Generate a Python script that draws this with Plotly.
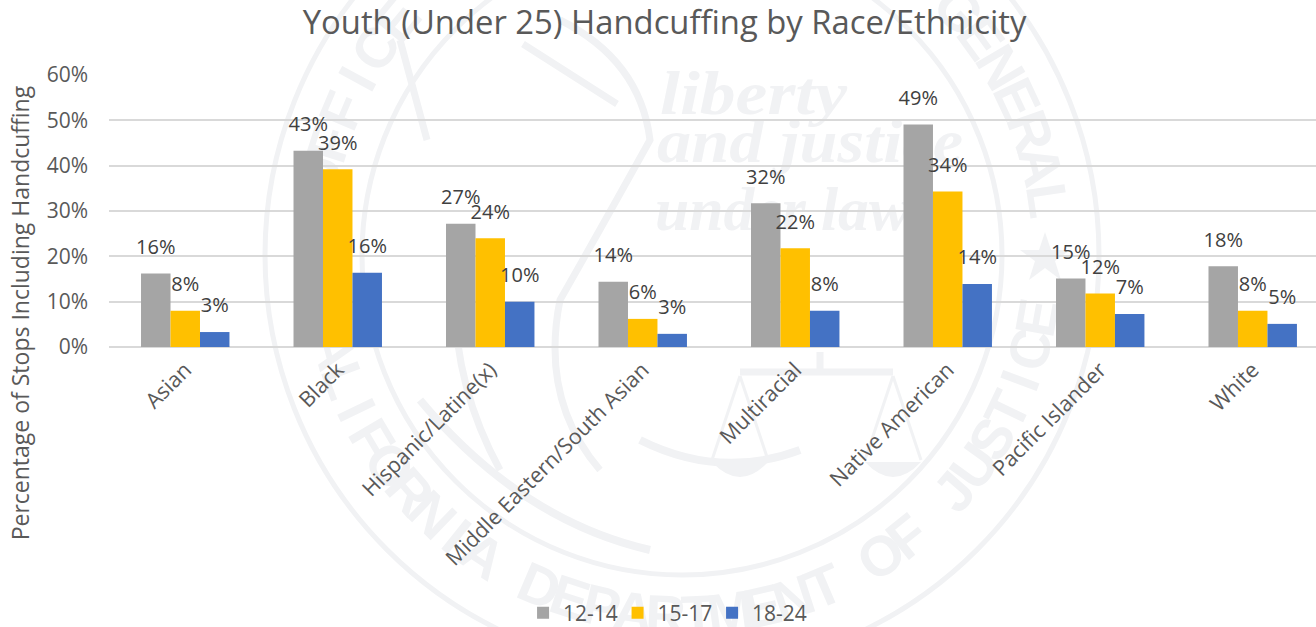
import base64
import math
import plotly.graph_objects as go

categories = ["Asian", "Black", "Hispanic/Latine(x)", "Middle Eastern/South Asian", "Multiracial", "Native American", "Pacific Islander", "White"]
age_12_14 = [16.2, 43.3, 27.2, 14.4, 31.7, 49.1, 15.1, 17.8]
age_15_17 = [8.0, 39.2, 24.0, 6.2, 21.8, 34.3, 11.8, 8.0]
age_18_24 = [3.3, 16.4, 10.0, 2.9, 8.0, 13.9, 7.3, 5.1]
labels_12_14 = ["16%", "43%", "27%", "14%", "32%", "49%", "15%", "18%"]
labels_15_17 = ["8%", "39%", "24%", "6%", "22%", "34%", "12%", "8%"]
labels_18_24 = ["3%", "16%", "10%", "3%", "8%", "14%", "7%", "5%"]
series = [("12-14", age_12_14, labels_12_14, "#A5A5A5"), ("15-17", age_15_17, labels_15_17, "#FFC000"), ("18-24", age_18_24, labels_18_24, "#4472C4")]
seal_top = "OFFICE OF THE ATTORNEY GENERAL"
seal_bottom = "CALIFORNIA DEPARTMENT OF JUSTICE"
FONT = "Open Sans, Noto Sans, sans-serif"
INK = "#F1F2F4"


def seal_svg():
    cx, cy, r = 682, 255, 365
    parts = [f'<svg xmlns="http://www.w3.org/2000/svg" width="1316" height="627" viewBox="0 0 1316 627">']
    parts.append(f'<g fill="none" stroke="{INK}"><circle cx="{cx}" cy="{cy}" r="417" stroke-width="5"/><circle cx="{cx}" cy="{cy}" r="320" stroke-width="5"/>')
    parts.append('<path d="M400 40 L427 140 M523 44 L617 104 M560 20 Q640 60 650 140 Q600 230 560 300 Q540 400 600 470 M460 240 Q440 360 500 470 M740 372 H893 M820 352 V372" stroke-width="7"/>')
    parts.append('<path d="M740 376 L712 460 M740 376 L768 460 M893 376 L865 460 M893 376 L921 460" stroke-width="3"/>')
    parts.append('<path d="M640 440 Q720 480 800 450 M420 400 Q520 520 650 550" stroke-width="8"/></g>')
    parts.append(f'<g fill="{INK}"><path d="M712 462 H768 Q740 492 712 462 Z M865 462 H921 Q893 492 865 462 Z"/>')
    parts.append('<path d="M1045 232 L1051 250 L1070 250 L1055 261 L1061 280 L1045 268 L1029 280 L1035 261 L1020 250 L1039 250 Z"/>')
    for text, x, y, w in (("liberty", 660, 114, 187), ("and justice", 657, 162, 306), ("under law", 655, 230, 255)):
        parts.append(f'<text x="{x}" y="{y}" textLength="{w}" lengthAdjust="spacingAndGlyphs" font-family="Liberation Serif" font-style="italic" font-weight="bold" font-size="62">{text}</text>')
    for text, start, step, sign in ((seal_top, -78.0, 5.5, 1), (seal_bottom, -80.0, 5.16, -1)):
        for i, ch in enumerate(text):
            if ch == " ":
                continue
            a = start + i * step
            x = cx + r * math.sin(math.radians(a))
            y = cy - sign * r * math.cos(math.radians(a))
            rot = a if sign == 1 else -a
            parts.append(f'<text transform="translate({x:.1f} {y:.1f}) rotate({rot:.1f})" text-anchor="middle" dominant-baseline="middle" font-family="Liberation Sans" font-weight="bold" font-size="56">{ch}</text>')
    parts.append('</g></svg>')
    return "data:image/svg+xml;base64," + base64.b64encode("".join(parts).encode()).decode()


GAP = "<br> "
fig = go.Figure()
for name, vals, labs, col in series:
    fig.add_bar(x=categories, y=vals, name=name, marker_color=col, marker_line_width=0,
                text=[f'<span style="font-size:20px">{t}</span>{GAP}' for t in labs], textposition="outside", textangle=0, constraintext="none",
                cliponaxis=False, textfont=dict(size=10.5, color="#404040", family=FONT), hoverinfo="x+y+name")
fig.update_layout(
    width=1316, height=640, margin=dict(l=109, r=0, t=75, b=293), barmode="group", bargap=0.42, bargroupgap=0,
    paper_bgcolor="white", plot_bgcolor="rgba(0,0,0,0)",
    title=dict(text="Youth (Under 25) Handcuffing by Race/Ethnicity", x=0.505, xanchor="center", y=0.965, yanchor="middle", font=dict(size=32.8, color="#595959", family=FONT)),
    legend=dict(orientation="h", x=0.4607, xanchor="center", y=-0.978, yanchor="middle", font=dict(size=21, color="#595959", family=FONT),
                traceorder="normal", entrywidth=49.5, entrywidthmode="pixels", bgcolor="rgba(0,0,0,0)"),
    font=dict(family=FONT),
    images=[dict(source=seal_svg(), xref="paper", yref="paper", x=-109 / 1207, y=347 / 272, sizex=1316 / 1207, sizey=627 / 272,
                 xanchor="left", yanchor="top", sizing="stretch", layer="below")],
    annotations=[dict(text="Percentage of Stops Including Handcuffing", textangle=-90, xref="paper", yref="paper", x=-0.073, y=0.127,
                      xanchor="center", yanchor="middle", showarrow=False, font=dict(size=23, color="#595959", family=FONT))])
fig.update_yaxes(range=[0, 60], dtick=10, ticksuffix="%", gridcolor="#D9D9D9", gridwidth=2, zeroline=True, zerolinecolor="#D9D9D9", zerolinewidth=2,
                 tickfont=dict(size=21, color="#595959"), ticklabelstandoff=20, automargin=False)
fig.update_xaxes(range=[-0.5, 7.415], tickangle=-45, tickfont=dict(size=21.5, color="#595959"), showline=False, ticks="", ticklabelstandoff=5, automargin=False)
fig.write_html("out.html", config=dict(displayModeBar=False),
               post_script="document.body.style.margin='0';document.body.style.overflow='hidden';document.documentElement.style.overflow='hidden';")
